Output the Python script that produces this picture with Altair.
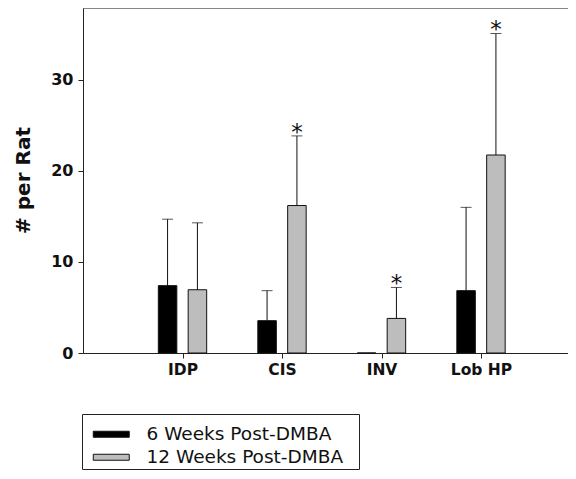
import altair as alt
import pandas as pd

categories = ["IDP", "CIS", "INV", "Lob HP"]
positions = [1, 2, 3, 4]
groups = ["6 Weeks Post-DMBA", "12 Weeks Post-DMBA"]
six_mean = [7.4, 3.55, 0.0, 6.85]
six_upper = [14.7, 6.85, None, 16.0]
twelve_mean = [6.95, 16.2, 3.8, 21.75]
twelve_upper = [14.3, 23.85, 7.2, 35.1]
twelve_signif = [False, True, True, True]
colors = ["#000000", "#bdbdbd"]

rows = []
for i, c in enumerate(categories):
    rows.append(dict(cat=c, pos=positions[i], group=groups[0], off=-0.15,
                     mean=six_mean[i], upper=six_upper[i], star=""))
    rows.append(dict(cat=c, pos=positions[i], group=groups[1], off=0.15,
                     mean=twelve_mean[i], upper=twelve_upper[i],
                     star="*" if twelve_signif[i] else ""))
df = pd.DataFrame(rows)

W, H = 485, 345
xscale = alt.Scale(domain=[0, W / 99.5], nice=False, zero=False)
yscale = alt.Scale(domain=[0, 37.9], nice=False)

base = alt.Chart(df).transform_calculate(
    xc="datum.pos + datum.off",
    x1="datum.pos + datum.off - 0.093",
    x2="datum.pos + datum.off + 0.093",
)

bars = base.mark_bar(stroke="#111111", strokeWidth=1).encode(
    x=alt.X("x1:Q", scale=xscale,
            axis=alt.Axis(values=positions, title=None, grid=False,
                          labelExpr="['', 'IDP','CIS','INV','Lob HP'][datum.value]",
                          labelFont="DejaVu Sans", labelFontWeight="bold",
                          labelFontSize=15.5, labelColor="#111111",
                          tickSize=5, tickColor="#222222", domainColor="#222222",
                          labelPadding=4)),
    x2="x2:Q",
    y=alt.Y("mean:Q", scale=yscale,
            axis=alt.Axis(values=[0, 10, 20, 30], title="# per Rat", grid=False,
                          labelFont="DejaVu Sans", labelFontWeight="bold",
                          labelFontSize=16, labelColor="#111111",
                          tickSize=5, tickColor="#222222", domainColor="#222222",
                          labelPadding=5,
                          titleFont="DejaVu Sans", titleFontWeight="bold",
                          titleFontSize=20, titleColor="#111111",
                          titleX=-54, titleY=172, titleAngle=-90,
                          titleAnchor="middle", titleAlign="center",
                          titleBaseline="alphabetic")),
    y2=alt.datum(0),
    color=alt.Color("group:N", scale=alt.Scale(domain=groups, range=colors),
                    legend=alt.Legend(
                        title="\u00a0", titleFontSize=6, titlePadding=3,
                        orient="none", legendX=-1, legendY=406,
                        strokeColor="#222222", fillColor="white",
                        padding=2, symbolOffset=18,
                        symbolType="M-3.6,-0.6L3.6,-0.6L3.6,0.6L-3.6,0.6Z",
                        symbolSize=100, symbolStrokeColor="#111111",
                        symbolStrokeWidth=1, symbolOpacity=1,
                        labelFont="DejaVu Sans", labelFontSize=18.5,
                        labelExpr="datum.label + '\u2800'",
                        labelColor="#111111", labelOffset=26,
                        rowPadding=4, labelLimit=400)),
)

err = base.transform_filter("datum.upper != null").mark_rule(
    color="#111111", strokeWidth=1).encode(
    x=alt.X("xc:Q", scale=xscale), y=alt.Y("mean:Q", scale=yscale), y2="upper:Q")

caps = base.transform_filter("datum.upper != null").mark_tick(
    orient="horizontal", color="#111111", thickness=1, size=11).encode(
    x=alt.X("xc:Q", scale=xscale), y=alt.Y("upper:Q", scale=yscale))

stars = base.transform_filter("datum.star != ''").mark_text(
    fontSize=23, font="DejaVu Sans", color="#111111", baseline="alphabetic",
    dy=4).encode(
    x=alt.X("xc:Q", scale=xscale), y=alt.Y("upper:Q", scale=yscale), text="star:N")

top = alt.Chart(pd.DataFrame({"a": [0]})).mark_rule(
    color="#333333", strokeWidth=1).encode(
    x=alt.value(0), x2=alt.value(W), y=alt.value(0))

chart = alt.layer(bars, err, caps, stars, top).properties(
    width=W, height=H,
    autosize=alt.AutoSizeParams(type="none"),
    padding={"left": 75, "top": 0, "right": 0, "bottom": 118},
).configure_view(stroke=None).configure(background="white")

chart.save("out.html", embed_options={"renderer": "svg", "actions": False})
